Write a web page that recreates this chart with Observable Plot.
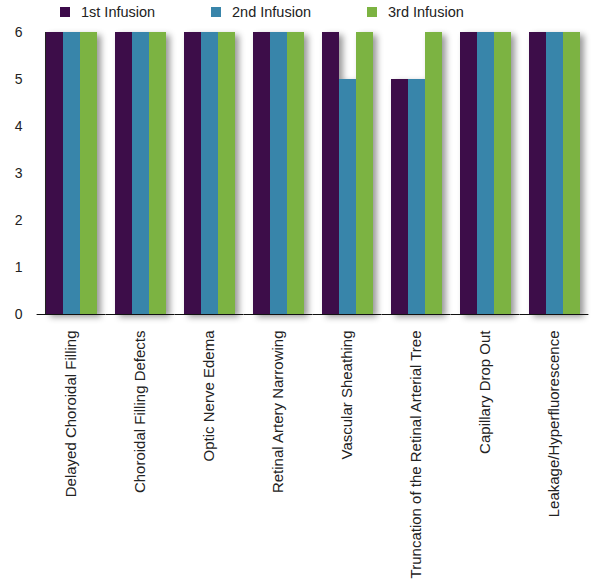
<!DOCTYPE html>
<html>
<head>
<meta charset="utf-8">
<script src="https://cdn.jsdelivr.net/npm/d3@7"></script>
<script src="https://cdn.jsdelivr.net/npm/@observablehq/plot@0.6"></script>
<style>
  html, body { margin: 0; padding: 0; background: #fff; }
  body { width: 602px; font-family: "Liberation Sans", Arial, Helvetica, sans-serif; }
  #legend { position: relative; height: 24px; }
  .item { position: absolute; top: 0; height: 24px; display: flex; align-items: center; font-size: 14.5px; color: #222; }
  .sw { width: 10px; height: 10px; margin-right: 11px; }
  svg [aria-label="y-axis tick label"] { font-size: 14px; }
  svg [aria-label="fx-axis tick label"] { font-size: 15px; }
</style>
</head>
<body>
<div id="legend"></div>
<div id="chart"></div>
<script>
const categories = [
  "Delayed Choroidal Filling",
  "Choroidal Filling Defects",
  "Optic Nerve Edema",
  "Retinal Artery Narrowing",
  "Vascular Sheathing",
  "Truncation of the Retinal Arterial Tree",
  "Capillary Drop Out",
  "Leakage/Hyperfluorescence"
];
const series = ["1st Infusion", "2nd Infusion", "3rd Infusion"];
const firstInfusion  = [6, 6, 6, 6, 6, 5, 6, 6];
const secondInfusion = [6, 6, 6, 6, 5, 5, 6, 6];
const thirdInfusion  = [6, 6, 6, 6, 6, 6, 6, 6];
const yTicks = [0, 1, 2, 3, 4, 5, 6];
const colors = ["#3c0a4a", "#3985aa", "#7cb342"];

const values = [firstInfusion, secondInfusion, thirdInfusion];
const data = categories.flatMap((c, i) => series.map((s, j) => ({cat: c, series: s, value: values[j][i]})));

// legend
const legendLeft = [60, 211, 367];
const legend = document.getElementById("legend");
series.forEach((s, j) => {
  const it = document.createElement("div");
  it.className = "item";
  it.style.left = legendLeft[j] + "px";
  it.innerHTML = `<span class="sw" style="background:${colors[j]}"></span><span>${s}</span>`;
  legend.appendChild(it);
});

const chart = Plot.plot({
  width: 602,
  height: 561,
  marginTop: 8,
  marginLeft: 36,
  marginRight: 12,
  marginBottom: 271,
  style: {fontFamily: "'Liberation Sans', Arial, Helvetica, sans-serif", fontSize: "15px", color: "#222", background: "#fff"},
  fx: {domain: categories, paddingInner: 0.24, paddingOuter: 0.1, label: null, tickSize: 0, tickPadding: 16, tickRotate: -90},
  x: {domain: series, axis: null, padding: 0},
  y: {domain: [0, 6], ticks: yTicks, tickFormat: d3.format("d"), tickSize: -3, tickPadding: 26, line: true, label: null},
  color: {domain: series, range: colors},
  marks: [
    Plot.barY(data, {fx: "cat", x: "series", y: "value", fill: "series", inset: 0}),
    Plot.ruleY([0], {stroke: "#111", strokeWidth: 1.2, insetLeft: -8.4, insetRight: -8.4})
  ]
});

// drop shadow on bars
const ns = "http://www.w3.org/2000/svg";
const defs = document.createElementNS(ns, "defs");
defs.innerHTML = `<filter id="shadow" x="-20%" y="-20%" width="150%" height="150%">
  <feDropShadow dx="4" dy="3" stdDeviation="3" flood-color="#000" flood-opacity="0.4"/>
</filter>`;
chart.insertBefore(defs, chart.firstChild);
chart.querySelectorAll('g[aria-label="bar"] > g').forEach(g => g.setAttribute("filter", "url(#shadow)"));
document.getElementById("chart").appendChild(chart);
</script>
</body>
</html>
